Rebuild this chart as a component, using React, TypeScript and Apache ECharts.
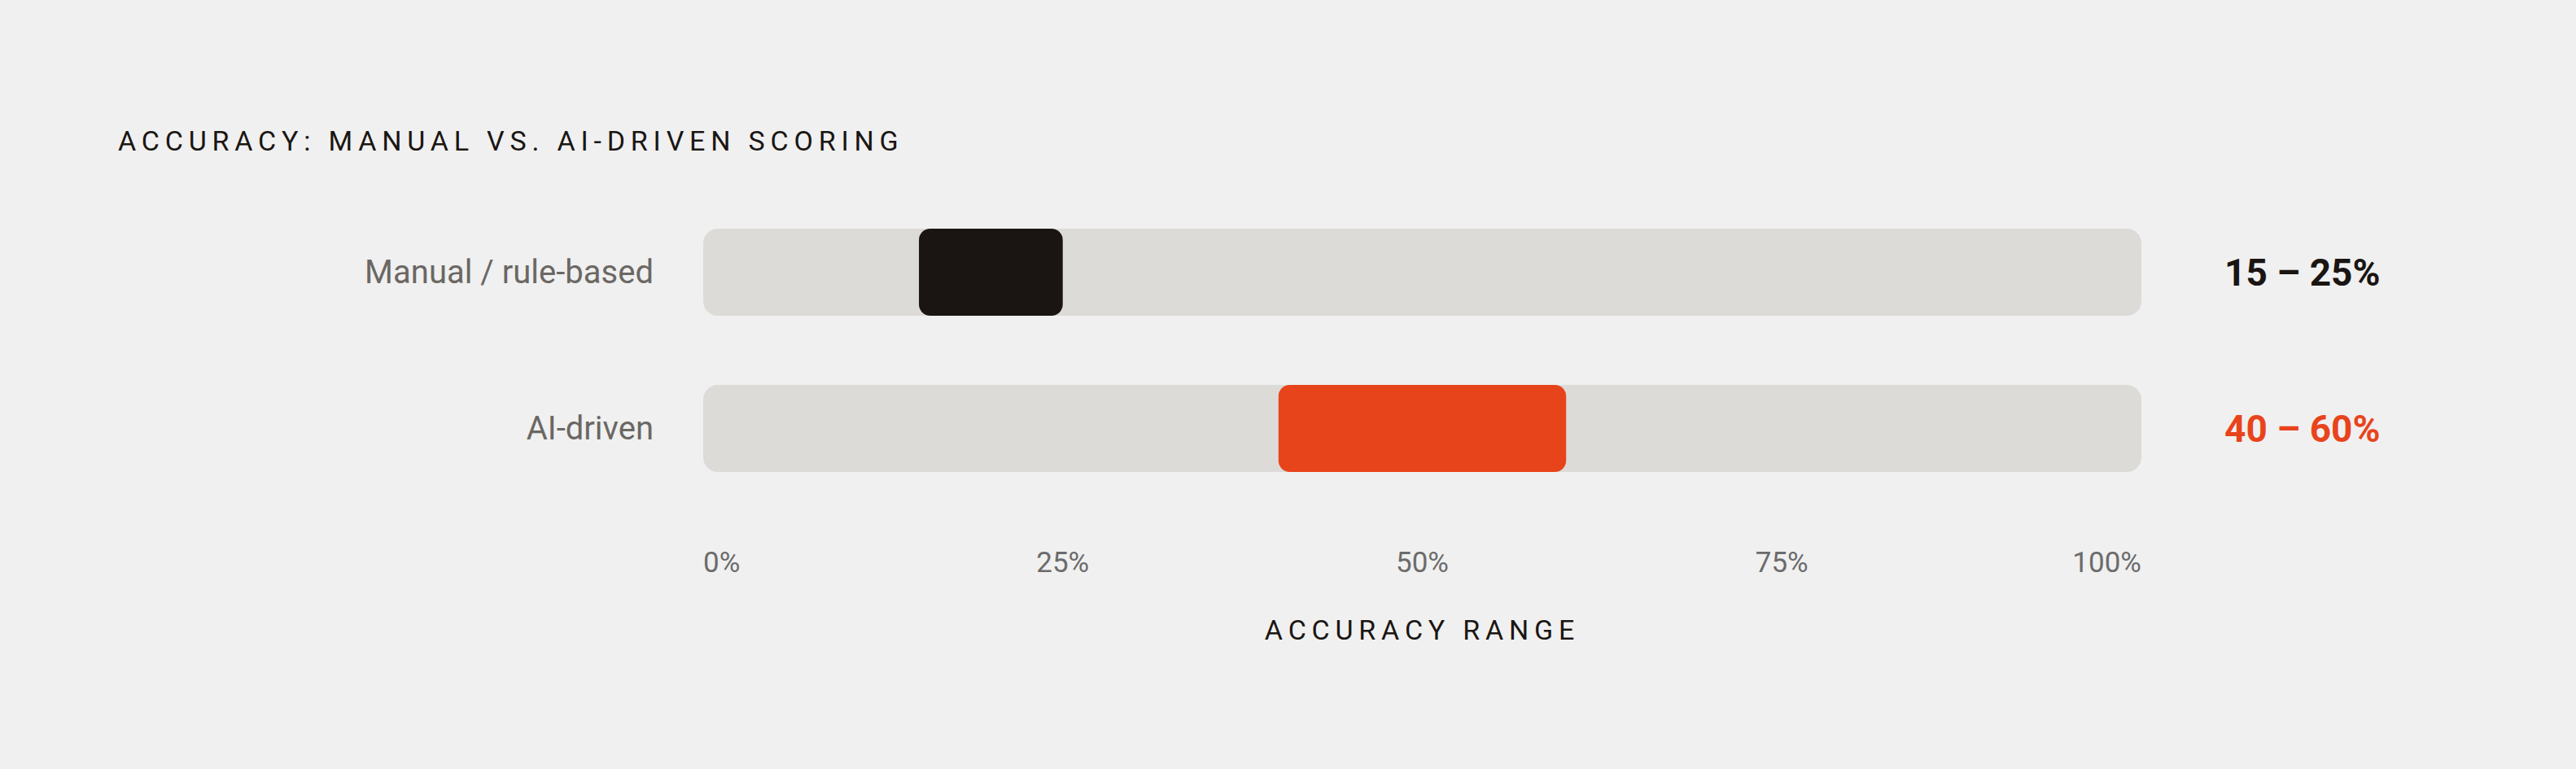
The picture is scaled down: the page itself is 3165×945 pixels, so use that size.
import { useEffect, useRef } from 'react'
import * as echarts from 'echarts'

const categories = ['Manual / rule-based', 'AI-driven']
const lows = [15, 40]
const highs = [25, 60]
const rangeColors = ['#1a1512', '#e8441c']
const rangeKeys = ['manual', 'ai']
const axisTicks = { min: 0, max: 100, interval: 25 }

const FONT = 'Roboto'
// texts that carry letter-spacing (see the <style> below)
const SPACED = 'Roboto, spaced'

export default function App() {
  const ref = useRef<HTMLDivElement>(null)

  useEffect(() => {
    if (!ref.current) return
    const chart = echarts.init(ref.current, undefined, { renderer: 'svg' })
    const rangeLabels = lows.map((lo, i) => `${lo} – ${highs[i]}%`)

    chart.setOption({
      animation: false,
      backgroundColor: '#f0f0f0',
      title: {
        text: 'ACCURACY: MANUAL VS. AI-DRIVEN SCORING',
        left: 140, top: 151,
        textStyle: { fontFamily: SPACED, fontSize: 34, fontWeight: 400, color: '#1a1613' },
      },
      grid: { left: 864, right: 534, top: 238.5, height: 384 },
      xAxis: {
        type: 'value', ...axisTicks,
        name: 'ACCURACY RANGE', nameLocation: 'middle', nameGap: 134,
        nameTextStyle: { fontFamily: SPACED, fontSize: 34, color: '#1a1613' },
        axisLine: { show: false }, axisTick: { show: false }, splitLine: { show: false },
        axisLabel: {
          formatter: '{value}%', margin: 51, fontFamily: FONT, fontSize: 35, color: '#6b6b6b',
          alignMinLabel: 'left', alignMaxLabel: 'right',
        },
      },
      yAxis: [
        {
          type: 'category', data: categories, inverse: true,
          axisLine: { show: false }, axisTick: { show: false },
          axisLabel: { margin: 61, fontFamily: FONT, fontSize: 40, color: '#6b6763' },
        },
        {
          type: 'category', data: rangeLabels, inverse: true, position: 'right',
          axisLine: { show: false }, axisTick: { show: false },
          axisLabel: {
            margin: 102, align: 'left',
            formatter: (v: string, i: number) => `{${rangeKeys[i]}|${v}}`,
            rich: Object.fromEntries(rangeKeys.map((k, i) => [k, {
              fontFamily: FONT, fontSize: 46, fontWeight: 700, color: rangeColors[i],
            }])),
          },
        },
      ],
      series: [
        {
          name: 'base', type: 'bar', stack: 'r', barWidth: 107, silent: true,
          data: lows, itemStyle: { color: 'transparent' },
        },
        {
          name: 'range', type: 'bar', stack: 'r', barWidth: 107,
          showBackground: true,
          backgroundStyle: { color: '#dcdbd7', borderRadius: 18 },
          itemStyle: { borderRadius: 14 },
          data: highs.map((h, i) => ({ value: h - lows[i], itemStyle: { color: rangeColors[i] } })),
        },
      ],
    })

    const onResize = () => chart.resize()
    window.addEventListener('resize', onResize)
    return () => { window.removeEventListener('resize', onResize); chart.dispose() }
  }, [])

  return (
    <>
      <style>{'text[style*="spaced"] { letter-spacing: 6.8px; }'}</style>
      <div ref={ref} style={{ position: 'fixed', left: 0, top: 0, width: '100vw', height: '100vh' }} />
    </>
  )
}
